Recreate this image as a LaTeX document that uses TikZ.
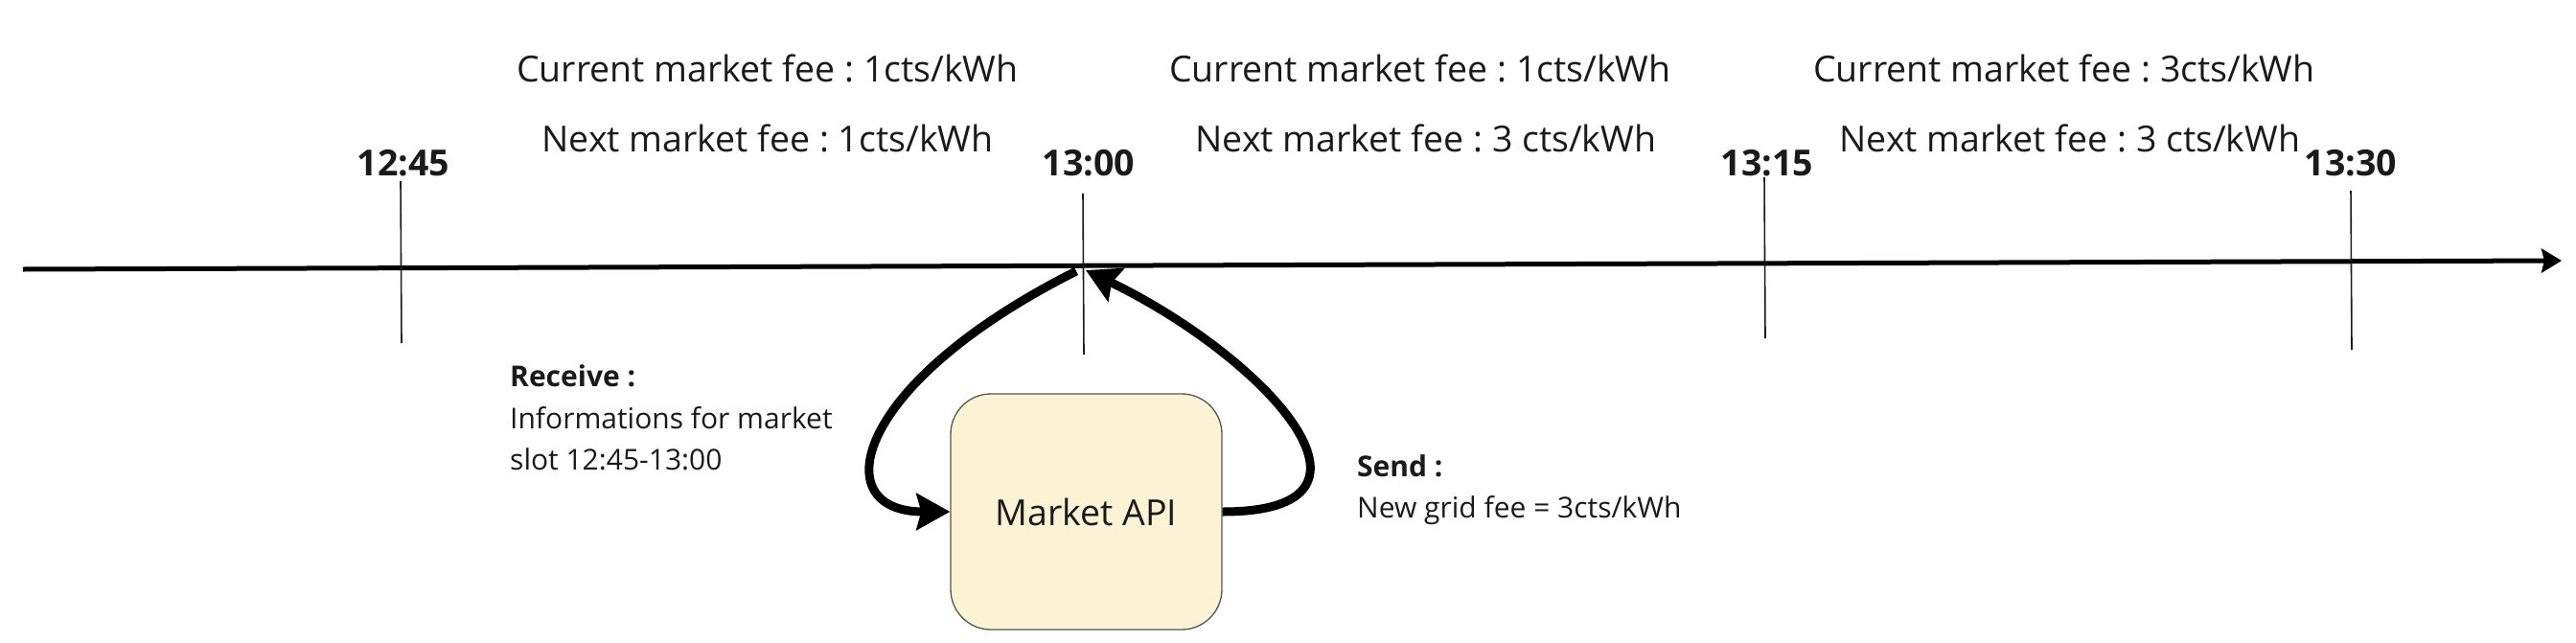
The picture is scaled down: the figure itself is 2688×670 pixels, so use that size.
\documentclass[tikz,border=0pt]{standalone}
\usepackage{fontspec}
\setmainfont{Open Sans}
\usetikzlibrary{arrows.meta}
\definecolor{txt}{HTML}{1A1A1A}
\definecolor{apifill}{HTML}{FCF3D5}
\definecolor{apiline}{HTML}{555555}
\frenchspacing
\begin{document}
\begin{tikzpicture}[x=1pt,y=-1pt,
  big/.style={font=\fontsize{37.5}{45}\selectfont, text=txt, inner sep=0pt, anchor=base},
  timelbl/.style={font=\fontsize{37.5}{45}\selectfont\bfseries, text=txt, inner sep=0pt, anchor=base},
  small/.style={font=\fontsize{30}{43}\selectfont, text=txt, inner sep=0pt, anchor=base west},
  tickline/.style={line width=1.6pt, draw=txt},
  flow/.style={line width=9pt, draw=black, -{Stealth[length=35pt,width=38pt,inset=5pt]}},
  apibox/.style={draw=apiline, line width=1.3pt, fill=apifill, rounded corners=42pt,
    minimum width=283pt, minimum height=246pt, inner sep=0pt,
    font=\fontsize{37.5}{45}\selectfont, text=txt}
]
\useasboundingbox (0,0) rectangle (2688,670);

% timeline
\coordinate (tl0) at (24,281);
\coordinate (tl1) at (2673,272);
\draw[line width=5pt, -{Stealth[length=21pt,width=25pt,inset=3pt]}] (tl0) -- (tl1);

% ticks
\coordinate (t1a) at (418,189); \coordinate (t1b) at (419,358);
\coordinate (t2a) at (1130,202); \coordinate (t2b) at (1131,370);
\coordinate (t3a) at (1841,185); \coordinate (t3b) at (1842,353);
\coordinate (t4a) at (2453,199); \coordinate (t4b) at (2454,365);
\draw[tickline] (t1a) -- (t1b);
\draw[tickline] (t2a) -- (t2b);
\draw[tickline] (t3a) -- (t3b);
\draw[tickline] (t4a) -- (t4b);

% time labels
\node[timelbl] (l1245) at (421,183) {12:45};
\node[timelbl] (l1300) at (1136,183) {13:00};
\node[timelbl] (l1315) at (1844,183) {13:15};
\node[timelbl] (l1330) at (2453,183) {13:30};

% fee texts
\node[big] (c1) at (801,85) {Current market fee : 1cts/kWh};
\node[big] (n1) at (801,158) {Next market fee : 1cts/kWh};
\node[big] (c2) at (1482,85) {Current market fee : 1cts/kWh};
\node[big] (n2) at (1488,158) {Next market fee : 3 cts/kWh};
\node[big] (c3) at (2154,85) {Current market fee : 3cts/kWh};
\node[big] (n3) at (2160,158) {Next market fee : 3 cts/kWh};

% API box
\node[apibox] (api) at (1133.5,534) {Market API};

% receive / send labels
\node[small, font=\fontsize{30}{43}\selectfont\bfseries] (rcv1) at (532,403) {Receive :};
\node[small] (rcv2) at (532,447) {Informations for market};
\node[small] (rcv3) at (532,490) {slot 12:45-13:00};
\node[small, font=\fontsize{30}{43}\selectfont\bfseries] (snd1) at (1416,497) {Send :};
\node[small] (snd2) at (1416,540) {New grid fee = 3cts/kWh};

% flows
\coordinate (rcvstart) at (1123,283);
\coordinate (sndend) at (1133,282);
\draw[flow] (rcvstart) .. controls (890,400) and (860,534) .. (api.west);
\draw[flow] (api.east) .. controls (1470,534) and (1319,372) .. (sndend);
\end{tikzpicture}
\end{document}
